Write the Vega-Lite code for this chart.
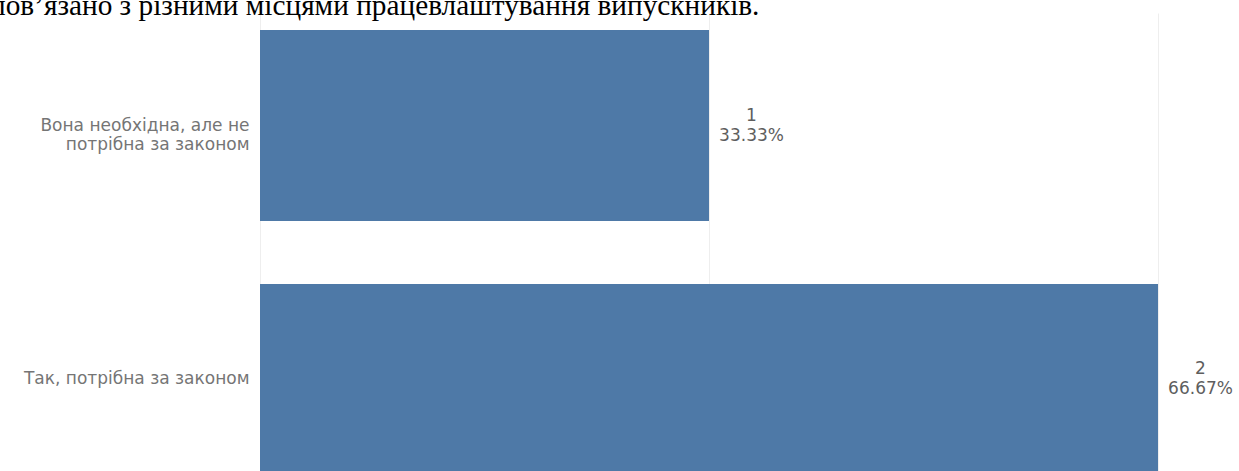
{
  "$schema": "https://vega.github.io/schema/vega-lite/v6.json",
  "width": 898,
  "height": 479,
  "autosize": {"type": "none"},
  "padding": {"left": 260, "top": 13, "right": 81, "bottom": -21},
  "title": {
    "text": "пов’язано з різними місцями працевлаштування випускників.",
    "anchor": "start",
    "frame": "group",
    "font": "Liberation Serif",
    "fontSize": 29.3,
    "fontWeight": "normal",
    "color": "#000000",
    "baseline": "alphabetic",
    "offset": 0,
    "dx": -270,
    "dy": 31
  },
  "config": {"view": {"stroke": null}},
  "data": {
    "values": [
      {"answer": "Вона необхідна, але не потрібна за законом", "count": 1, "share": 0.3333},
      {"answer": "Так, потрібна за законом", "count": 2, "share": 0.6667}
    ]
  },
  "encoding": {
    "y": {
      "field": "answer",
      "type": "nominal",
      "sort": null,
      "scale": {"paddingInner": 0.248, "paddingOuter": 0.067},
      "axis": {
        "title": null,
        "domain": false,
        "ticks": false,
        "labelFont": "DejaVu Sans",
        "labelFontSize": 17,
        "labelColor": "#757575",
        "labelPadding": 11,
        "labelLimit": 400,
        "labelLineHeight": 19,
        "labelExpr": "length(datum.value) > 30 ? ['Вона необхідна, але не', 'потрібна за законом'] : datum.value"
      }
    },
    "x": {
      "field": "count",
      "type": "quantitative",
      "scale": {"domain": [0, 2], "nice": false},
      "axis": {
        "title": null,
        "domain": false,
        "ticks": false,
        "labels": false,
        "values": [0, 1, 2],
        "grid": true,
        "gridColor": "#eeeeee",
        "gridWidth": 1
      }
    }
  },
  "layer": [
    {"mark": {"type": "bar", "color": "#4e79a7"}},
    {
      "mark": {"type": "text", "align": "center", "baseline": "middle", "dx": 42.5, "dy": -10, "font": "DejaVu Sans", "fontSize": 17, "color": "#5e5e5e"},
      "encoding": {"text": {"field": "count", "type": "quantitative"}}
    },
    {
      "mark": {"type": "text", "align": "center", "baseline": "middle", "dx": 42.5, "dy": 10, "font": "DejaVu Sans", "fontSize": 17, "color": "#5e5e5e"},
      "encoding": {"text": {"field": "share", "type": "quantitative", "format": ".2%"}}
    }
  ]
}
